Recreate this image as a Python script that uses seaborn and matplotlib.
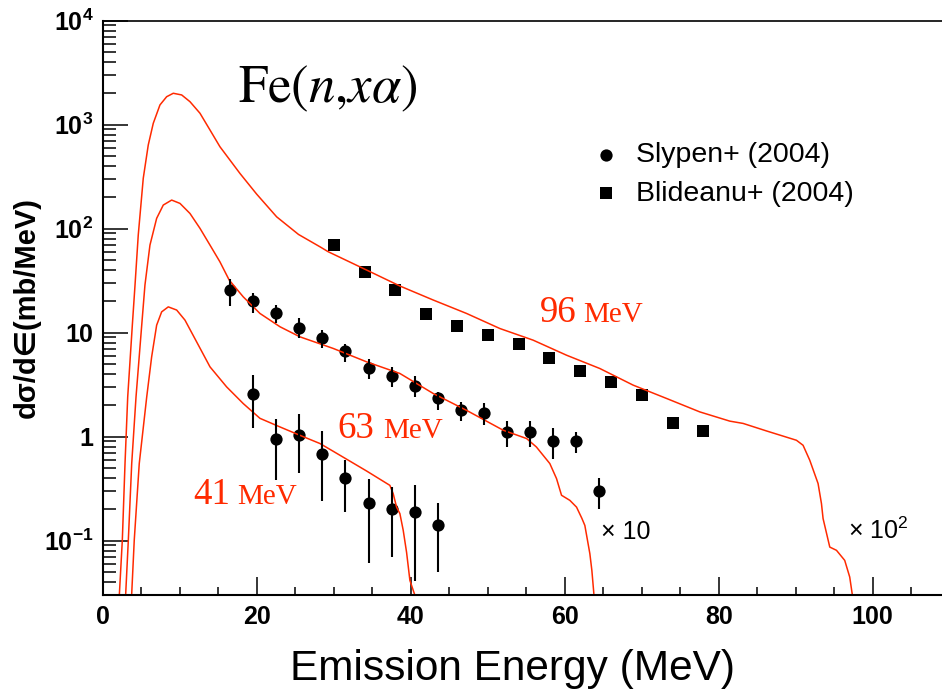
import numpy as np
import pandas as pd
import matplotlib
matplotlib.use("Agg")
import matplotlib.pyplot as plt
import seaborn as sns

# ---------------- data ----------------
# model curves (x in MeV, y in mb/MeV, as plotted incl. scale factors)
c96_x = [2.12, 2.51, 2.86, 3.21, 3.81, 4.16, 4.58, 5.23, 5.88, 6.53, 7.40, 8.27,
         9.13, 10.22, 11.30, 12.60, 13.90, 15.19, 17.79, 19.96, 22.56, 25.4,
         28.18, 29.26, 34.25, 38.57, 42.90, 47.23, 51.56, 55.88, 60.22, 64.55,
         68.87, 73.21, 77.53, 81.43, 83.16, 86.19, 90.09, 90.95, 91.82, 92.90,
         93.34, 93.55, 94.42, 95.29, 96.36, 97.01, 97.36]
c96_y = [0.0298, 0.101, 0.551, 2.41, 11.8, 28.7, 86.8, 305, 638, 1031, 1549, 1858,
         2005, 1932, 1664, 1288, 889, 614, 340, 215, 130, 88,
         67.0, 60.0, 40.0, 28.1, 20.6, 15.3, 10.96, 8.47, 6.07, 4.52,
         3.13, 2.33, 1.73, 1.41, 1.34, 1.135, 0.923, 0.826, 0.593, 0.354,
         0.227, 0.163, 0.0867, 0.0807, 0.0646, 0.0447, 0.0298]

c63_x = [2.95, 3.29, 3.73, 4.29, 5.03, 5.45, 6.10, 6.97, 7.83, 8.92, 10.0, 11.30,
         12.60, 13.90, 15.19, 16.40, 18.22, 20.39, 22.99, 25.58, 29.91, 34.25,
         38.57, 42.90, 47.23, 51.99, 55.03, 56.3, 58.05, 58.92, 59.57, 60.65,
         61.52, 62.21, 62.60, 63.25, 63.51, 63.77]
c63_y = [0.0309, 0.101, 0.551, 2.41, 11.8, 28.7, 69.5, 125.7, 168.7, 188.4, 175, 140,
         100.7, 69.5, 48.0, 32.0, 22.1, 15.3, 11.4, 9.12, 7.05, 5.24,
         4.05, 2.60, 1.79, 1.153, 0.959, 0.796, 0.551, 0.395, 0.273, 0.244,
         0.210, 0.164, 0.140, 0.075, 0.0518, 0.0309]

c41_x = [3.73, 4.06, 4.71, 5.68, 6.32, 6.97, 7.62, 8.48, 9.57, 10.65, 12.60, 13.90,
         16.06, 18.22, 20.39, 22.99, 25.58, 28.18, 29.91, 34.25, 37.27, 37.70,
         38.14, 38.57, 39.0, 39.44, 39.87, 40.52]
c41_y = [0.0309, 0.101, 0.551, 2.41, 5.85, 11.8, 15.85, 17.7, 16.5, 13.2, 7.10, 4.69,
         3.01, 2.08, 1.50, 1.24, 1.03, 0.859, 0.723, 0.467, 0.340, 0.283,
         0.210, 0.182, 0.126, 0.0771, 0.0415, 0.0298]

# Slypen+ (2004), 63 MeV (x10)
s63_x = [16.5, 19.5, 22.5, 25.5, 28.5, 31.5, 34.5, 37.5, 40.5, 43.5, 46.5, 49.5,
         52.5, 55.5, 58.5, 61.5, 64.5]
s63_y = [25.6, 20.1, 15.3, 11.1, 8.8, 6.6, 4.6, 3.84, 3.08, 2.33, 1.80, 1.69,
         1.10, 1.10, 0.90, 0.90, 0.30]
s63_lo = [18.0, 15.3, 12.3, 8.8, 7.05, 5.23, 3.62, 3.0, 2.41, 1.79, 1.41, 1.29,
          0.80, 0.80, 0.61, 0.70, 0.20]
s63_hi = [32.5, 24.1, 18.4, 13.7, 10.6, 7.86, 5.64, 4.68, 3.84, 2.69, 2.16, 2.11,
          1.41, 1.41, 1.21, 1.11, 0.40]

# Slypen+ (2004), 41 MeV
s41_x = [19.5, 22.5, 25.5, 28.5, 31.5, 34.5, 37.5, 40.5, 43.5]
s41_y = [2.56, 0.944, 1.03, 0.688, 0.40, 0.23, 0.20, 0.19, 0.14]
s41_lo = [1.2, 0.38, 0.447, 0.24, 0.19, 0.061, 0.069, 0.041, 0.050]
s41_hi = [3.9, 1.49, 1.64, 1.13, 0.59, 0.395, 0.33, 0.34, 0.23]

# Blideanu+ (2004), 96 MeV (x100)
b96_x = [30, 34, 38, 42, 46, 50, 54, 58, 62, 66, 70, 74, 78]
b96_y = [69.5, 38.5, 25.7, 15.1, 11.55, 9.6, 7.75, 5.65, 4.29, 3.39, 2.50, 1.34, 1.13]

x_major = [0, 20, 40, 60, 80, 100]
x_major_labels = ["0", "20", "40", "60", "80", "100"]
y_major = [0.1, 1, 10, 100, 1000, 10000]
y_major_labels = [r"$\mathbf{10^{-1}}$", "1", "10", r"$\mathbf{10^{2}}$",
                  r"$\mathbf{10^{3}}$", r"$\mathbf{10^{4}}$"]

# ---------------- style ----------------
sns.set_style("ticks")
plt.rcParams["font.family"] = ["Liberation Sans", "DejaVu Sans"]
plt.rcParams["mathtext.fontset"] = "custom"
plt.rcParams["mathtext.rm"] = "Liberation Sans"
plt.rcParams["mathtext.bf"] = "Liberation Sans:bold"
plt.rcParams["mathtext.it"] = "Liberation Sans:italic"
for k in ("text.color", "axes.labelcolor", "xtick.color", "ytick.color",
          "axes.edgecolor"):
    plt.rcParams[k] = "black"

RED = "#ff2a00"
W, H = 942, 689

fig = plt.figure(figsize=(9.42, 6.89), dpi=100)
ax = fig.add_axes([103 / W, 1 - 595 / H, 839 / W, (595 - 20.7) / H])

curves = pd.concat([
    pd.DataFrame({"E": c96_x, "v": c96_y, "beam": "96"}),
    pd.DataFrame({"E": c63_x, "v": c63_y, "beam": "63"}),
    pd.DataFrame({"E": c41_x, "v": c41_y, "beam": "41"}),
])
sns.lineplot(data=curves, x="E", y="v", hue="beam", palette=[RED] * 3,
             estimator=None, sort=False, lw=1.1, legend=False, ax=ax)

# error bars
ax.vlines(s63_x, s63_lo, s63_hi, color="black", lw=1.5)
ax.vlines(s41_x, s41_lo, s41_hi, color="black", lw=1.5)

sns.scatterplot(x=s63_x, y=s63_y, marker="o", s=78, color="black",
                edgecolor="black", linewidth=0, ax=ax, label="Slypen+ (2004)")
sns.scatterplot(x=s41_x, y=s41_y, marker="o", s=78, color="black",
                edgecolor="black", linewidth=0, ax=ax)
sns.scatterplot(x=b96_x, y=b96_y, marker="s", s=72, color="black",
                edgecolor="black", linewidth=0, ax=ax, label="Blideanu+ (2004)")

ax.set_yscale("log")
ax.set_xlim(0, 109)
ax.set_ylim(0.03, 1e4)

ax.set_xticks(x_major, labels=x_major_labels, fontweight="bold", color="black")
ax.set_xticks(list(range(5, 110, 5)), minor=True)
ax.set_yticks(y_major, labels=y_major_labels, fontweight="bold", color="black")
ymin_ticks = [m * 10.0 ** e for e in range(-2, 4) for m in range(2, 10)]
ymin_ticks = [t for t in ymin_ticks if 0.03 <= t <= 1e4]
ax.set_yticks(ymin_ticks, minor=True)
ax.yaxis.set_minor_formatter(matplotlib.ticker.NullFormatter())

ax.tick_params(axis="x", which="major", direction="in", length=12.7, width=1.1,
               labelsize=18, pad=7, top=False, colors="black")
ax.tick_params(axis="x", which="minor", direction="in", length=6, width=1.1,
               top=False, colors="black")
ax.tick_params(axis="y", which="major", direction="in", length=18, width=1.1,
               labelsize=18, pad=7, right=False, colors="black")
ax.tick_params(axis="y", which="minor", direction="in", length=9, width=1.1,
               right=False, colors="black")

ax.spines["right"].set_visible(False)
for s in ("left", "bottom"):
    ax.spines[s].set_linewidth(1.5)
    ax.spines[s].set_color("black")
ax.spines["top"].set_linewidth(1.2)
ax.spines["top"].set_color("black")

ax.set_xlabel("Emission Energy (MeV)", fontsize=30.5, fontweight="normal",
              color="black")
ax.xaxis.set_label_coords((513 - 103) / 839, (595 - 680) / 574.3)
ax.xaxis.label.set_va("baseline")
ax.set_ylabel("dσ/d∈(mb/MeV)", fontsize=21, fontweight="bold", color="black")
ax.yaxis.set_label_coords((27 - 103) / 839, (595 - 307) / 574.3)
ax.yaxis.label.set_va("center")

leg = ax.legend(loc="upper left", bbox_to_anchor=(591.75 / W, 1 - 142 / H),
                bbox_transform=fig.transFigure, frameon=False, fontsize=20.5,
                handlelength=1.0, handletextpad=0.55, borderpad=0,
                borderaxespad=0, labelspacing=0.45, scatterpoints=1)
for t in leg.get_texts():
    t.set_color("black")

# annotations
fig.text(238 / W, 1 - 102 / H, r"$\mathrm{Fe}(n{,}x\alpha)$", fontsize=38,
         math_fontfamily="stix", va="baseline", ha="left", color="black")

serif = ["Liberation Serif", "DejaVu Serif"]
for num, px, mx, py in [("96", 540, 583, 321.7), ("63", 337, 383, 438),
                        ("41", 193, 237, 504)]:
    fig.text(px / W, 1 - py / H, num, fontsize=26.5, family=serif, color=RED,
             va="baseline", ha="left")
    fig.text(mx / W, 1 - py / H, "MeV", fontsize=21, family=serif, color=RED,
             va="baseline", ha="left")

fig.text(601 / W, 1 - 539 / H, "× 10", fontsize=18, va="baseline", ha="left",
         color="black")
fig.text(848 / W, 1 - 539 / H, r"× 10$^{2}$", fontsize=18, va="baseline",
         ha="left", color="black")

fig.savefig("out.png", dpi=100, facecolor="white")
